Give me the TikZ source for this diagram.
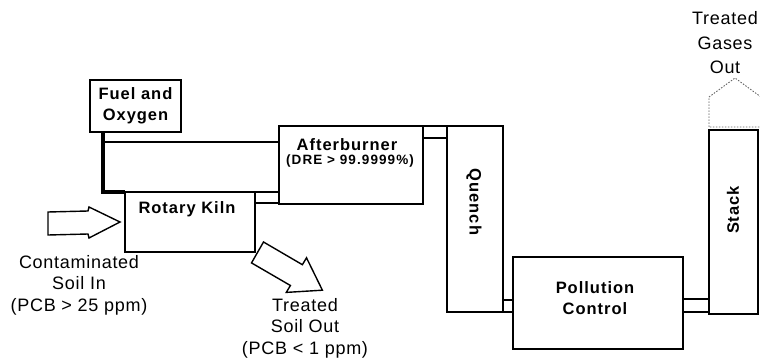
\documentclass[tikz,border=0pt]{standalone}
\usepackage{fontspec}
\setmainfont{Liberation Sans}
\newfontfamily\boxfont{Liberation Sans}[LetterSpace=6]
\newfontfamily\labfont{Liberation Sans}[LetterSpace=4]
\newfontfamily\drefont{Liberation Sans}[LetterSpace=8]
\usetikzlibrary{calc}
\begin{document}
\begin{tikzpicture}[x=1pt,y=-1pt,
  unit/.style={draw, line width=1.5pt, inner sep=0pt, outer sep=0pt},
  boxtxt/.style={font=\boxfont\bfseries\fontsize{16.5}{21}\selectfont, inner sep=0pt, align=center},
  labtxt/.style={font=\labfont\fontsize{18}{21.5}\selectfont, inner sep=0pt, align=center},
  dretxt/.style={font=\drefont\bfseries\fontsize{13.5}{16}\selectfont, inner sep=0pt},
  duct/.style={line width=1.5pt},
  feed/.style={line width=3.2pt, line join=miter},
  blockarrow/.style={draw, line width=1.4pt, line join=miter},
  outline/.style={draw, line width=0.9pt, dash pattern=on 1.5pt off 1.5pt, black!60}
]
\useasboundingbox (0,0) rectangle (760,358);

% units
\node[unit, minimum width=91pt, minimum height=52pt] (fuel) at (135.5,106) {};
\node[unit, minimum width=130pt, minimum height=60pt] (kiln) at (190,222) {};
\node[unit, minimum width=144pt, minimum height=78pt] (ab) at (351,165) {};
\node[unit, minimum width=56pt, minimum height=186pt] (q) at (475,219) {};
\node[unit, minimum width=170pt, minimum height=92pt] (pc) at (598,303) {};
\node[unit, minimum width=49pt, minimum height=184pt] (st) at (733.5,222) {};

% fuel and oxygen feed lines
\coordinate (fx) at ($(fuel.south west)+(13,0)$);
\coordinate (fj) at ($(fx)+(0,10)$);
\draw[feed] (fx) |- (kiln.north west);
\draw[feed, line width=2.6pt] (fj) -- (fj -| ab.west);

% ducts
\draw[duct] (kiln.north east) -- (kiln.north east -| ab.west);
\draw[duct] ($(kiln.north east)+(0,11)$) -- ($(kiln.north east -| ab.west)+(0,11)$);
\draw[duct] (ab.north east) -- (ab.north east -| q.west);
\draw[duct] ($(ab.north east)+(0,12)$) -- ($(ab.north east -| q.west)+(0,12)$);
\draw[duct] (q.south east) -- (q.south east -| pc.west);
\draw[duct] ($(q.south east)+(0,-12)$) -- ($(q.south east -| pc.west)+(0,-12)$);
\draw[duct] ($(st.south west)+(0,-2)$) -- ($(st.south west -| pc.east)+(0,-2)$);
\draw[duct] ($(st.south west)+(0,-15)$) -- ($(st.south west -| pc.east)+(0,-15)$);

% block arrows
\draw[blockarrow] (48,212) -- (88,211) -- (89,207) -- (120,222) -- (89,238) -- (88,234) -- (48,235) -- cycle;
\draw[blockarrow] (263.5,242) -- (302.4,264.7) -- (306.5,257.8) -- (322.4,290.2) -- (286.3,292.4) -- (290.4,285.5) -- (251.5,262.9) -- cycle;
\draw[outline] (709,127) -- (709,97) -- (735,78) -- (761,97) -- (761,127) -- cycle;

% texts
\node[boxtxt] (fueltxt) at (135.5,106) {Fuel and\\Oxygen};
\node[boxtxt] (kilntxt) at (187,209) {Rotary Kiln};
\node[boxtxt] (abtxt) at (347,145) {Afterburner};
\node[dretxt] (dre) at (350,161) {(DRE > 99.9999\%)};
\node[boxtxt, rotate=-90] (qtxt) at (474,202) {Quench};
\node[boxtxt] (pctxt) at (595,298) {Pollution\\Control};
\node[boxtxt, rotate=90] (sttxt) at (733,210) {Stack};
\node[labtxt] (intxt) at (79,285) {Contaminated\\Soil In\\(PCB > 25 ppm)};
\node[labtxt] (outtxt) at (305,328) {Treated\\Soil Out\\(PCB < 1 ppm)};
\node[labtxt, font=\labfont\fontsize{18}{24.5}\selectfont] (gastxt) at (725,43) {Treated\\Gases\\Out};
\end{tikzpicture}
\end{document}
